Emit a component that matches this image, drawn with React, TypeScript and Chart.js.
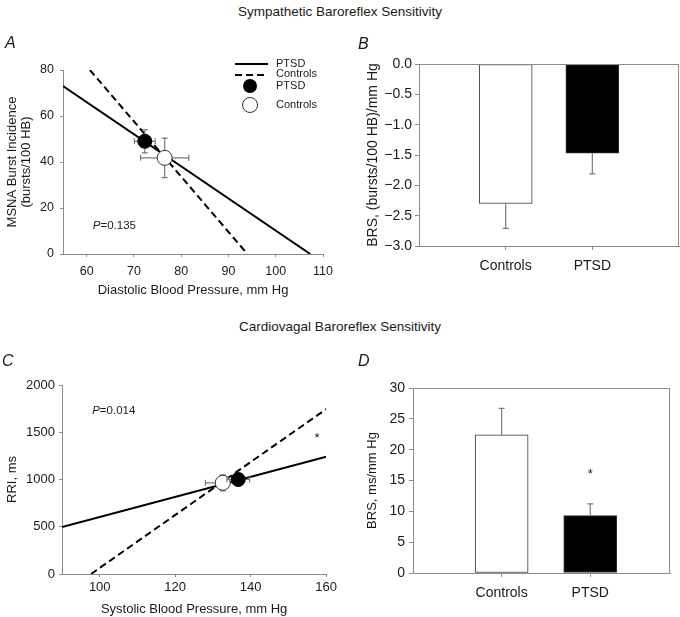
import React, { useEffect, useRef } from 'react';
import { Chart, registerables } from 'chart.js';

Chart.register(...registerables);

const FONT = '"Liberation Sans", Arial, Helvetica, sans-serif';
const AXIS = '#8c8c8c';
const ERR = '#7a7a7a';
const TEXT = '#1a1a1a';

// ---------------- Panel A: Sympathetic (MSNA vs DBP) ----------------
const aXTicks = [60, 70, 80, 90, 100, 110];
const aYTicks = [0, 20, 40, 60, 80];
const aPtsdLineX = [55, 107.3];
const aPtsdLineY = [73.0, 0];
const aCtrlLineX = [60.7, 94.0];
const aCtrlLineY = [80, 0];
const aMeanX = [72.3, 76.5]; // PTSD, Controls
const aMeanY = [49.0, 41.8];
const aErrX = [2.2, 5.1];
const aErrY = [5.0, 8.6];
const aPValue = '=0.135';
const aPPos = [61.3, 12.3];

// ---------------- Panel B: Sympathetic BRS bars ----------------
const bCategories = ['Controls', 'PTSD'];
const bValues = [-2.3, -1.47];
const bErrors = [0.41, 0.34];
const bYTicks = [0, -0.5, -1.0, -1.5, -2.0, -2.5, -3.0];

// ---------------- Panel C: Cardiovagal (RRI vs SBP) ----------------
const cXTicks = [100, 120, 140, 160];
const cYTicks = [0, 500, 1000, 1500, 2000];
const cPtsdLineX = [90, 160];
const cPtsdLineY = [497, 1240];
const cCtrlLineX = [97.7, 160];
const cCtrlLineY = [0, 1745];
const cMeanX = [136.7, 132.6]; // PTSD, Controls
const cMeanY = [1000, 965];
const cErrX = [3.0, 4.6];
const cErrY = [50, 85];
const cPValue = '=0.014';
const cPPos = [98, 1729];
const cStarPos = [157.6, 1430];

// ---------------- Panel D: Cardiovagal BRS bars ----------------
const dCategories = ['Controls', 'PTSD'];
const dValues = [22.4, 9.3];
const dErrors = [4.3, 1.9];
const dYTicks = [0, 5, 10, 15, 20, 25, 30];
const dStarPos = [2, 16];

type Pt = { x: number; y: number };
const pts = (xs: number[], ys: number[]): Pt[] => xs.map((x, i) => ({ x, y: ys[i] }));

function axis(o: any) {
  return {
    type: 'linear',
    min: o.min,
    max: o.max,
    offset: false,
    afterBuildTicks: (s: any) => {
      s.ticks = o.ticks.map((v: number) => ({ value: v }));
    },
    afterFit: (s: any) => {
      if (o.horizontal) s.height = o.fit;
      else s.width = o.fit;
    },
    grid: {
      display: true,
      offset: false,
      drawOnChartArea: false,
      drawTicks: true,
      tickLength: o.tl,
      color: AXIS,
      lineWidth: 1,
    },
    border: { display: true, color: AXIS, width: 1 },
    ticks: {
      font: { family: FONT, size: o.size },
      color: TEXT,
      padding: o.pad,
      maxRotation: 0,
      minRotation: 0,
      autoSkip: false,
      callback: o.cb || ((v: number) => String(v)),
    },
    title: o.title
      ? {
          display: true,
          text: o.title,
          font: { family: FONT, size: o.titleSize, lineHeight: o.titleLH || 1.2 },
          color: TEXT,
          padding: o.titlePad,
        }
      : { display: false },
  };
}

const errorBarPlugin = {
  id: 'errorBars',
  beforeDatasetDraw(chart: any, args: any) {
    const ds = chart.data.datasets[args.index];
    if (!ds.errX && !ds.errY) return;
    const { ctx } = chart;
    const xs = chart.scales.x;
    const ys = chart.scales.y;
    const cap = 3;
    ctx.save();
    ctx.strokeStyle = ERR;
    ctx.lineWidth = 1.2;
    ds.data.forEach((p: Pt, i: number) => {
      const px = xs.getPixelForValue(p.x);
      const py = ys.getPixelForValue(p.y);
      if (ds.errX) {
        const l = xs.getPixelForValue(p.x - ds.errX[i]);
        const r = xs.getPixelForValue(p.x + ds.errX[i]);
        ctx.beginPath();
        ctx.moveTo(l, py); ctx.lineTo(r, py);
        ctx.moveTo(l, py - cap); ctx.lineTo(l, py + cap);
        ctx.moveTo(r, py - cap); ctx.lineTo(r, py + cap);
        ctx.stroke();
      }
      if (ds.errY) {
        const t = ys.getPixelForValue(p.y + ds.errY[i]);
        const b = ys.getPixelForValue(p.y - ds.errY[i]);
        ctx.beginPath();
        ctx.moveTo(px, t); ctx.lineTo(px, b);
        ctx.moveTo(px - cap, t); ctx.lineTo(px + cap, t);
        ctx.moveTo(px - cap, b); ctx.lineTo(px + cap, b);
        ctx.stroke();
      }
    });
    ctx.restore();
  },
};

const barErrorPlugin = {
  id: 'barErrors',
  afterDatasetDraw(chart: any, args: any) {
    const ds = chart.data.datasets[args.index];
    if (!ds.err) return;
    const { ctx } = chart;
    const xs = chart.scales.x;
    const ys = chart.scales.y;
    ctx.save();
    ctx.strokeStyle = ERR;
    ctx.lineWidth = 1.2;
    ds.data.forEach((p: Pt, i: number) => {
      const dir = p.y >= 0 ? 1 : -1;
      const px = xs.getPixelForValue(p.x);
      const y0 = ys.getPixelForValue(p.y);
      const y1 = ys.getPixelForValue(p.y + dir * ds.err[i]);
      ctx.beginPath();
      ctx.moveTo(px, y0); ctx.lineTo(px, y1);
      ctx.moveTo(px - 3, y1); ctx.lineTo(px + 3, y1);
      ctx.stroke();
    });
    ctx.restore();
  },
};

const framePlugin = {
  id: 'frame',
  afterDraw(chart: any) {
    const { ctx, chartArea: a } = chart;
    ctx.save();
    ctx.strokeStyle = AXIS;
    ctx.lineWidth = 1;
    ctx.strokeRect(a.left + 0.5, a.top + 0.5, a.right - a.left - 1, a.bottom - a.top);
    ctx.restore();
  },
};

function textPlugin(items: any[]) {
  return {
    id: 'texts',
    afterDraw(chart: any) {
      const { ctx } = chart;
      const xs = chart.scales.x;
      const ys = chart.scales.y;
      ctx.save();
      ctx.fillStyle = TEXT;
      ctx.textBaseline = 'middle';
      items.forEach((it) => {
        let x = xs.getPixelForValue(it.x);
        const y = ys.getPixelForValue(it.y);
        ctx.textAlign = it.align || 'left';
        it.parts.forEach((part: any) => {
          ctx.font = `${part.italic ? 'italic ' : ''}${it.size}px ${FONT}`;
          ctx.fillText(part.text, x, y);
          x += ctx.measureText(part.text).width;
        });
      });
      ctx.restore();
    },
  };
}

const legendPluginA = {
  id: 'legendA',
  afterDraw(chart: any) {
    const { ctx, chartArea } = chart;
    const { right, top } = chartArea;
    const ds = chart.data.datasets;
    const x0 = right - 88;
    const x1 = right - 55;
    const cx = right - 73;
    const tx = right - 47;
    ctx.save();
    ctx.strokeStyle = '#000';
    ctx.lineWidth = 2;
    ctx.beginPath(); ctx.moveTo(x0, top - 6); ctx.lineTo(x1, top - 6); ctx.stroke();
    ctx.setLineDash([7, 4]);
    ctx.beginPath(); ctx.moveTo(x0, top + 5); ctx.lineTo(x1, top + 5); ctx.stroke();
    ctx.setLineDash([]);
    ctx.fillStyle = '#000';
    ctx.beginPath(); ctx.arc(cx, top + 16, 7, 0, Math.PI * 2); ctx.fill();
    ctx.lineWidth = 1;
    ctx.strokeStyle = '#333';
    ctx.fillStyle = '#fff';
    ctx.beginPath(); ctx.arc(cx, top + 35, 7.5, 0, Math.PI * 2); ctx.fill(); ctx.stroke();
    ctx.fillStyle = TEXT;
    ctx.font = `11px ${FONT}`;
    ctx.textAlign = 'left';
    ctx.textBaseline = 'middle';
    ctx.fillText(ds[2].label, tx, top - 6.5);
    ctx.fillText(ds[3].label, tx, top + 3.5);
    ctx.fillText(ds[0].label, tx, top + 15.5);
    ctx.fillText(ds[1].label, tx, top + 34.5);
    ctx.restore();
  },
};

function scatterDatasets(meanX: number[], meanY: number[], errX: number[], errY: number[], pl: Pt[], cl: Pt[]) {
  return [
    {
      label: 'PTSD',
      data: [{ x: meanX[0], y: meanY[0] }],
      errX: [errX[0]],
      errY: [errY[0]],
      pointRadius: 7,
      pointBackgroundColor: '#000',
      pointBorderColor: '#000',
      pointBorderWidth: 1,
    },
    {
      label: 'Controls',
      data: [{ x: meanX[1], y: meanY[1] }],
      errX: [errX[1]],
      errY: [errY[1]],
      pointRadius: 7.5,
      pointBackgroundColor: '#fff',
      pointBorderColor: '#333',
      pointBorderWidth: 1,
    },
    {
      label: 'PTSD',
      data: pl,
      showLine: true,
      borderColor: '#000',
      borderWidth: 2,
      pointRadius: 0,
    },
    {
      label: 'Controls',
      data: cl,
      showLine: true,
      borderColor: '#000',
      borderWidth: 2,
      borderDash: [7, 4],
      pointRadius: 0,
    },
  ];
}

const baseOptions = (padding: any) => ({
  responsive: false,
  animation: false,
  events: [],
  layout: { padding },
  plugins: { legend: { display: false }, tooltip: { enabled: false } },
});

function configA(): any {
  return {
    type: 'scatter',
    data: {
      datasets: scatterDatasets(aMeanX, aMeanY, aErrX, aErrY, pts(aPtsdLineX, aPtsdLineY), pts(aCtrlLineX, aCtrlLineY)),
    },
    options: {
      ...baseOptions({ top: 40, right: 13, bottom: 0, left: 0 }),
      scales: {
        x: axis({
          horizontal: true, min: 55, max: 110, ticks: aXTicks, size: 12.5, tl: 3, pad: 7, fit: 56,
          title: 'Diastolic Blood Pressure, mm Hg', titleSize: 13, titlePad: { top: 0, bottom: 12 },
        }),
        y: axis({
          min: 0, max: 80, ticks: aYTicks, size: 12.5, tl: 3, pad: 6, fit: 63,
          title: ['MSNA Burst Incidence', '(bursts/100 HB)'], titleSize: 13, titleLH: 1.1,
          titlePad: { top: 5, bottom: 0 },
        }),
      },
    },
    plugins: [
      errorBarPlugin,
      textPlugin([{ x: aPPos[0], y: aPPos[1], size: 11.5, parts: [{ text: 'P', italic: true }, { text: aPValue }] }]),
      legendPluginA,
    ],
  };
}

function configC(): any {
  return {
    type: 'scatter',
    data: {
      datasets: scatterDatasets(cMeanX, cMeanY, cErrX, cErrY, pts(cPtsdLineX, cPtsdLineY), pts(cCtrlLineX, cCtrlLineY)),
    },
    options: {
      ...baseOptions({ top: 45, right: 11, bottom: 0, left: 0 }),
      scales: {
        x: axis({
          horizontal: true, min: 90, max: 160, ticks: cXTicks, size: 13, tl: 3, pad: 3, fit: 43,
          title: 'Systolic Blood Pressure, mm Hg', titleSize: 13, titlePad: { top: 0, bottom: 0 },
        }),
        y: axis({
          min: 0, max: 2000, ticks: cYTicks, size: 13, tl: 3, pad: 4, fit: 62,
          title: 'RRI, ms', titleSize: 13, titlePad: { top: 5, bottom: 0 },
        }),
      },
    },
    plugins: [
      errorBarPlugin,
      textPlugin([
        { x: cPPos[0], y: cPPos[1], size: 11.5, parts: [{ text: 'P', italic: true }, { text: cPValue }] },
        { x: cStarPos[0], y: cStarPos[1], size: 13, align: 'center', parts: [{ text: '*' }] },
      ]),
    ],
  };
}

function barConfig(o: any): any {
  return {
    type: 'bar',
    data: {
      datasets: [
        {
          label: 'BRS',
          data: o.values.map((v: number, i: number) => ({ x: i + 1, y: v })),
          err: o.errors,
          backgroundColor: ['#fff', '#000'],
          borderColor: '#333',
          borderWidth: 1,
          borderSkipped: false,
          barThickness: 53,
        },
      ],
    },
    options: {
      ...baseOptions(o.padding),
      scales: {
        x: axis({
          horizontal: true, min: 0, max: o.xMax, ticks: o.categories.map((_: string, i: number) => i + 1),
          size: 14, tl: 4, pad: o.xPad, fit: o.xFit,
          cb: (v: number) => o.categories[v - 1] || '',
        }),
        y: axis({
          min: o.yMin, max: o.yMax, ticks: o.yTicks, size: 14, tl: 4, pad: o.yPad, fit: o.yFit,
          cb: o.yCb,
          title: o.yTitle, titleSize: o.yTitleSize, titlePad: { top: o.yTitlePadTop, bottom: 0 },
        }),
      },
    },
    plugins: [barErrorPlugin, framePlugin, textPlugin(o.texts || [])],
  };
}

function configB(): any {
  return barConfig({
    values: bValues, errors: bErrors, categories: bCategories,
    padding: { top: 34, right: 1, bottom: 0, left: 0 },
    xMax: 3, xPad: 8, xFit: 64,
    yMin: -3, yMax: 0, yTicks: bYTicks, yPad: 3, yFit: 79,
    yCb: (v: number) => v.toFixed(1).replace('-', '\u2212'),
    yTitle: 'BRS, (bursts/100 HB)/mm Hg', yTitleSize: 14, yTitlePadTop: 25,
  });
}

function configD(): any {
  return barConfig({
    values: dValues, errors: dErrors, categories: dCategories,
    padding: { top: 48, right: 10, bottom: 0, left: 0 },
    xMax: 2.9, xPad: 8, xFit: 44,
    yMin: 0, yMax: 30, yTicks: dYTicks, yPad: 4, yFit: 73,
    yCb: (v: number) => String(v),
    yTitle: 'BRS, ms/mm Hg', yTitleSize: 13, yTitlePadTop: 25,
    texts: [{ x: dStarPos[0], y: dStarPos[1], size: 13, align: 'center', parts: [{ text: '*' }] }],
  });
}

function ChartCanvas({ make, left, top, width, height }: any) {
  const ref = useRef<HTMLCanvasElement>(null);
  useEffect(() => {
    const chart = new Chart(ref.current as HTMLCanvasElement, make());
    return () => chart.destroy();
  }, []);
  return (
    <canvas
      ref={ref}
      width={width}
      height={height}
      style={{ position: 'absolute', left, top, width, height }}
    />
  );
}

const panelLabel = (text: string, left: number, top: number) => (
  <div
    style={{
      position: 'absolute', left, top, fontSize: 16, lineHeight: '16px',
      fontStyle: 'italic', color: TEXT,
    }}
  >
    {text}
  </div>
);

const heading = (text: string, top: number) => (
  <div
    style={{
      position: 'absolute', left: 0, top, width: 680, textAlign: 'center',
      fontSize: 13.5, lineHeight: '14px', color: TEXT,
    }}
  >
    {text}
  </div>
);

export default function App() {
  return (
    <div
      style={{
        position: 'absolute', left: 0, top: 0, width: 680, height: 617,
        background: '#fff', fontFamily: FONT, overflow: 'hidden',
      }}
    >
      {heading('Sympathetic Baroreflex Sensitivity', 5)}
      {heading('Cardiovagal Baroreflex Sensitivity', 320)}
      <ChartCanvas make={configA} left={0} top={30} width={340} height={280} />
      <ChartCanvas make={configB} left={340} top={30} width={340} height={280} />
      <ChartCanvas make={configC} left={0} top={340} width={340} height={277} />
      <ChartCanvas make={configD} left={340} top={340} width={340} height={277} />
      {panelLabel('A', 5, 35)}
      {panelLabel('B', 358, 36)}
      {panelLabel('C', 2, 353)}
      {panelLabel('D', 358, 353)}
    </div>
  );
}
